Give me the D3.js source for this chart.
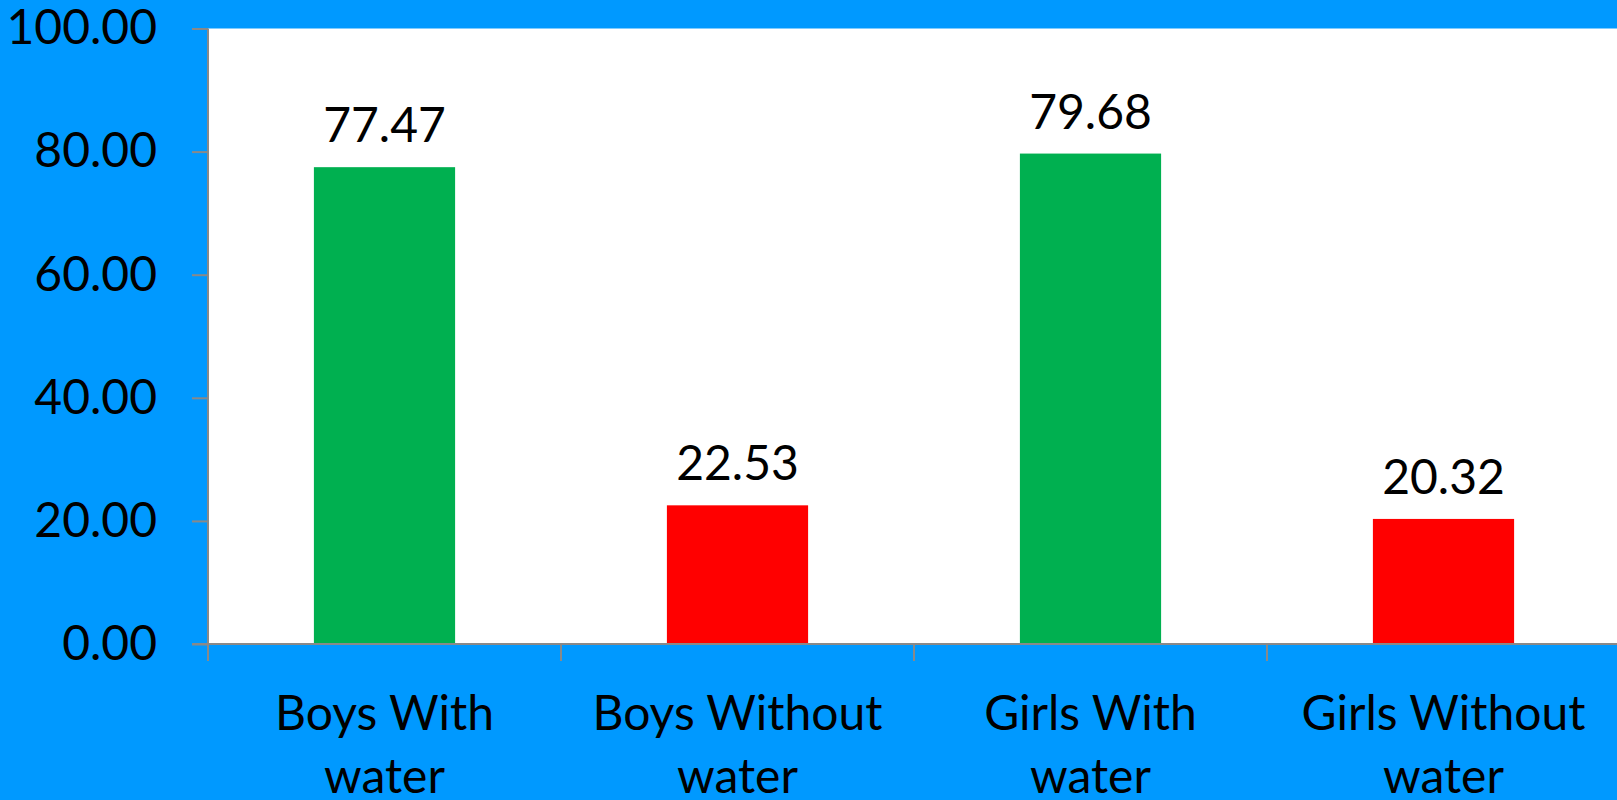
<!DOCTYPE html>
<html lang="en">
<head>
    <meta charset="UTF-8">
    <title>With and without water</title>
    <style>
        body {
            margin: 0;
            background-color: #0099ff;
            overflow: hidden;
        }
        .chart text {
            font-family: Lato, "Open Sans", sans-serif;
            font-size: 48px;
            fill: #000;
        }
        .axis path, .axis line {
            stroke: #898989;
            stroke-width: 2;
        }
    </style>
</head>
<body>
    <div class="chart"></div>
    <script src="https://d3js.org/d3.v7.min.js"></script>
    <script>
        // chart data
        const categories = [["Boys With", "water"], ["Boys Without", "water"], ["Girls With", "water"], ["Girls Without", "water"]];
        const values = [77.47, 22.53, 79.68, 20.32];
        const barColors = ["#00b050", "#ff0000", "#00b050", "#ff0000"];
        const yTicks = [0, 20, 40, 60, 80, 100];

        const width = 1617;
        const height = 800;
        const plotLeft = 208, plotTop = 28.5, plotRight = 1620, plotBottom = 644;

        const svg = d3.select(".chart").append("svg")
            .attr("width", width)
            .attr("height", height);

        const keys = categories.map(c => c.join(" "));

        const xScale = d3.scaleBand()
            .domain(keys)
            .range([plotLeft, plotRight])
            .paddingInner(0.6)
            .paddingOuter(0.3);

        const yScale = d3.scaleLinear()
            .domain([0, 100])
            .range([plotBottom, plotTop]);

        // white plot area
        svg.append("rect")
            .attr("x", plotLeft)
            .attr("y", yScale(100))
            .attr("width", plotRight - plotLeft)
            .attr("height", yScale(0) - yScale(100))
            .attr("fill", "#fff");

        // bars
        svg.selectAll(".bar")
            .data(values)
            .enter()
            .append("rect")
            .attr("class", "bar")
            .attr("x", (d, i) => xScale(keys[i]))
            .attr("y", d => yScale(d))
            .attr("width", xScale.bandwidth())
            .attr("height", d => yScale(0) - yScale(d))
            .attr("fill", (d, i) => barColors[i]);

        // value labels
        svg.selectAll(".value")
            .data(values)
            .enter()
            .append("text")
            .attr("class", "value")
            .attr("x", (d, i) => xScale(keys[i]) + xScale.bandwidth() / 2)
            .attr("y", d => yScale(d) - 25)
            .attr("text-anchor", "middle")
            .text(d => d.toFixed(2));

        // y axis
        const yAxis = svg.append("g")
            .attr("class", "axis")
            .attr("transform", "translate(" + plotLeft + ",0)")
            .call(d3.axisLeft(yScale).tickValues(yTicks).tickFormat(d3.format(".2f")).tickSize(16).tickPadding(35));
        yAxis.attr("font-family", null).attr("font-size", null);
        yAxis.select(".domain").attr("d", "M0," + plotTop + "V" + plotBottom);

        // x axis line
        svg.append("g")
            .attr("class", "axis")
            .append("line")
            .attr("x1", plotLeft - 16)
            .attr("x2", plotRight)
            .attr("y1", plotBottom)
            .attr("y2", plotBottom);

        // x tick marks at category boundaries
        const half = (xScale.step() - xScale.bandwidth()) / 2;
        const edges = keys.map(k => xScale(k) - half).concat([xScale(keys[keys.length - 1]) + xScale.bandwidth() + half]);
        svg.append("g")
            .attr("class", "axis")
            .selectAll("line")
            .data(edges)
            .enter()
            .append("line")
            .attr("x1", d => d)
            .attr("x2", d => d)
            .attr("y1", plotBottom)
            .attr("y2", plotBottom + 17);

        // x labels, two lines each
        const xl = svg.selectAll(".xlabel")
            .data(categories)
            .enter()
            .append("text")
            .attr("class", "xlabel")
            .attr("text-anchor", "middle")
            .attr("x", (d, i) => xScale(keys[i]) + xScale.bandwidth() / 2)
            .attr("y", 730);
        xl.selectAll("tspan")
            .data(d => d)
            .enter()
            .append("tspan")
            .attr("x", function () { return d3.select(this.parentNode).attr("x"); })
            .attr("dy", (d, i) => i === 0 ? 0 : 63)
            .text(d => d);
    </script>
</body>
</html>
